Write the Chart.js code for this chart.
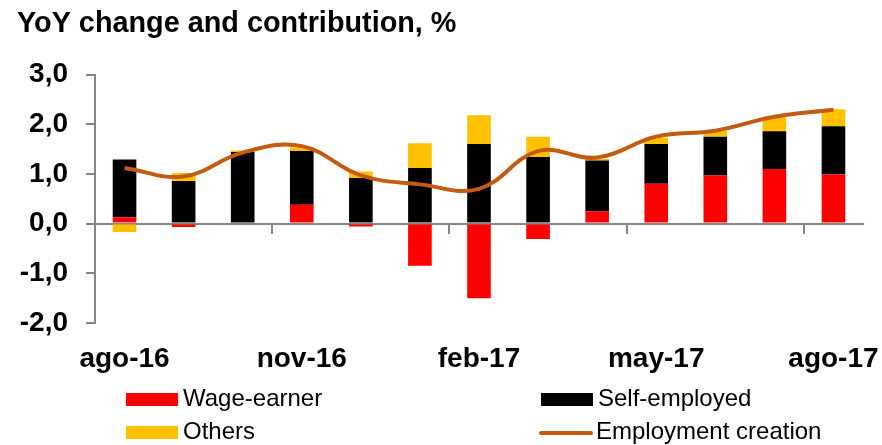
<!DOCTYPE html>
<html>
<head>
<meta charset="utf-8">
<script src="https://cdn.jsdelivr.net/npm/chart.js@4.4.1/dist/chart.umd.min.js"></script>
<style>
	body { margin: 0; background: #fff; }
	#wrap { position: relative; width: 882px; height: 445px; }
	#legend div { position: absolute; }
	#legend .text { font: 24px 'Liberation Sans', Arial, sans-serif; line-height: 24px; color: #000; white-space: nowrap; }
</style>
</head>
<body>
<div id="wrap">
	<canvas id="chart" width="882" height="445"></canvas>
	<div id="legend"></div>
</div>
<script>
const MONTHS = ['ago-16', 'sep-16', 'oct-16', 'nov-16', 'dic-16', 'ene-17', 'feb-17',
	'mar-17', 'abr-17', 'may-17', 'jun-17', 'jul-17', 'ago-17']

// contributions, pp
const WAGE_EARNER = [0.13, -0.07, 0.00, 0.38, -0.06, -0.85, -1.50, -0.31, 0.25, 0.80, 0.97, 1.10, 0.99]
const SELF_EMPLOYED = [1.16, 0.86, 1.44, 1.08, 0.92, 1.12, 1.60, 1.34, 1.02, 0.80, 0.78, 0.76, 0.97]
const OTHERS = [-0.17, 0.16, 0.03, 0.07, 0.13, 0.50, 0.58, 0.41, 0.03, 0.13, 0.12, 0.29, 0.34]

// YoY change, %
const EMPLOYMENT = [1.12, 0.95, 1.43, 1.56, 0.97, 0.79, 0.70, 1.46, 1.33, 1.75, 1.87, 2.15, 2.29]

const Y_TICKS = [-2, -1, 0, 1, 2, 3]

const FONT = "'Liberation Sans', Arial, sans-serif"
const GREY = '#868686'
const RED = '#ff0000'
const BLACK = '#000000'
const GOLD = '#ffc000'
const RUST = '#c55a11'

function yLabel(v) {
	return v.toFixed(1).replace('.', ',')
}

// labels may overhang the plot, like the original
function noSidePadding(s) {
	s.paddingLeft = 0
	s.paddingRight = 0
}

const chart = new Chart(document.getElementById('chart'), {
	data: {
		labels: MONTHS,
		datasets: [
			{ type: 'bar', label: 'Wage-earner', data: WAGE_EARNER, backgroundColor: RED, order: 1 },
			{ type: 'bar', label: 'Self-employed', data: SELF_EMPLOYED, backgroundColor: BLACK, order: 1 },
			{ type: 'bar', label: 'Others', data: OTHERS, backgroundColor: GOLD, order: 1 },
			{
				type: 'line', label: 'Employment creation', data: EMPLOYMENT, stack: 'line', order: 0,
				borderColor: RUST, borderWidth: 4, tension: 0.4, pointRadius: 0, fill: false
			}
		]
	},
	options: {
		responsive: false,
		animation: false,
		barPercentage: 0.4,
		categoryPercentage: 1,
		layout: { padding: { left: 17, right: 19, top: 0, bottom: 70 } },
		plugins: {
			legend: { display: false },
			tooltip: { enabled: false },
			title: {
				display: true,
				text: 'YoY change and contribution, %',
				align: 'start',
				color: '#000',
				font: { family: FONT, size: 28.8, weight: 'bold' },
				padding: { top: 7, bottom: 33 }
			}
		},
		scales: {
			x: {
				stacked: true,
				offset: true,
				grid: { display: false },
				border: { display: false },
				ticks: {
					autoSkip: false,
					maxRotation: 0,
					padding: 11,
					color: '#000',
					font: { family: FONT, size: 28, weight: 'bold' },
					callback: (v, i) => i % 3 === 0 ? MONTHS[i] : ''
				},
				afterFit: s => { s.height = 52; noSidePadding(s) }
			},
			// axis line at zero with a tick mark every three months
			xZero: {
				axis: 'x',
				type: 'category',
				labels: MONTHS,
				position: { y: 0 },
				offset: true,
				grid: {
					offset: true,
					drawOnChartArea: false,
					tickLength: 9,
					lineWidth: 2,
					tickColor: c => c.index % 3 === 0 ? GREY : 'rgba(0,0,0,0)'
				},
				border: { color: GREY, width: 2 },
				ticks: { display: false, autoSkip: false },
				afterFit: noSidePadding
			},
			y: {
				stacked: true,
				min: Y_TICKS[0],
				max: Y_TICKS[Y_TICKS.length - 1],
				afterBuildTicks: s => { s.ticks = Y_TICKS.map(v => ({ value: v })) },
				grid: { drawOnChartArea: false, tickLength: 9, lineWidth: 2, tickColor: GREY },
				border: { color: GREY, width: 2 },
				ticks: {
					padding: 18,
					color: '#000',
					font: { family: FONT, size: 28, weight: 'bold' },
					callback: v => yLabel(v)
				},
				afterFit: s => { s.width = 78 }
			}
		}
	}
})

// Legend in two columns, built from the datasets
const LEGEND_SLOTS = [
	{ left: 126, top: 386 },
	{ left: 541, top: 386 },
	{ left: 126, top: 419 },
	{ left: 539, top: 419 }
]

const legend = document.getElementById('legend')
chart.data.datasets.forEach(function(ds, n) {
	const slot = LEGEND_SLOTS[n]
	const mark = document.createElement('div')
	if (ds.type === 'line') {
		mark.style.cssText = `left:${slot.left}px;top:${slot.top + 12}px;width:54px;height:4px;border-radius:2px;background:${ds.borderColor}`
	} else {
		mark.style.cssText = `left:${slot.left}px;top:${slot.top + 7}px;width:52px;height:13px;background:${ds.backgroundColor}`
	}
	const text = document.createElement('div')
	text.className = 'text'
	text.textContent = ds.label
	text.style.left = (slot.left + 57) + 'px'
	text.style.top = slot.top + 'px'
	legend.appendChild(mark)
	legend.appendChild(text)
})
</script>
</body>
</html>
